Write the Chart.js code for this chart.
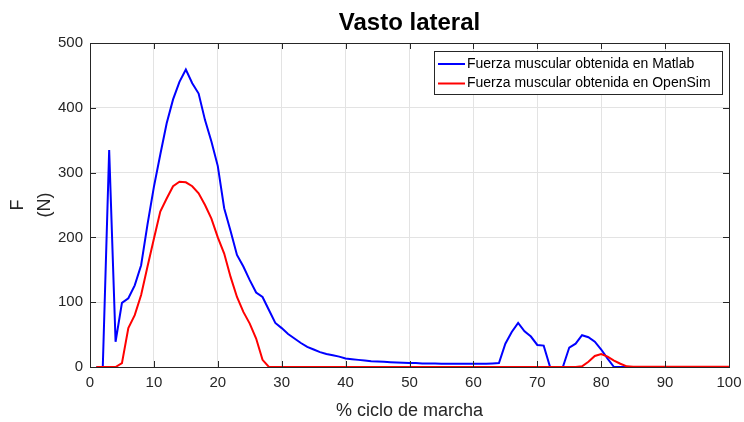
<!DOCTYPE html>
<html>
<head>
<meta charset="utf-8">
<script src="https://cdn.jsdelivr.net/npm/chart.js@4.4.1/dist/chart.umd.min.js"></script>
<style>
  body { margin: 0; background: #fff; }
  #wrap { width: 744px; height: 422px; }
</style>
</head>
<body>
<div id="wrap"><canvas id="myChart"></canvas></div>
<script>
// % ciclo de marcha
const ciclo = [1,2,3,4,5,6,7,8,9,10,11,12,13,14,15,16,17,18,19,20,
  21,22,23,24,25,26,27,28,29,30,31,32,33,34,35,36,37,38,39,40,
  41,42,43,44,45,46,47,48,49,50,51,52,53,54,55,56,57,58,59,60,
  61,62,63,64,65,66,67,68,69,70,71,72,73,74,75,76,77,78,79,80,
  81,82,83,84,85,86,87,88,89,90,91,92,93,94,95,96,97,98,99,100];

// fuerza (N) obtenida en Matlab
const fuerzaMatlab = [0,0,335,39,99,106,126,157,220,278,
  328,376,413,440,459,438,422,381,348,310,
  245,210,173,155,134,115,108,88,68,60,
  51,44,37,31,27,23,20,18,16,13,
  12,11,10,9,8.5,8,7.5,7,6.5,6,
  6,5.5,5.5,5.5,5,5,5,5,5,5,
  5,5,5.5,6,36,54,68,55,47,34,
  33,0,0,0,30,36,49,46,39,27,
  13,0,0,0,0,0,0,0,0,0,
  0,0,0,0,0,0,0,0,0,0];

// fuerza (N) obtenida en OpenSim
const fuerzaOpenSim = [0,0,0,0,6,60,80,111,155,198,
  240,260,279,286,285,279,268,250,229,200,
  175,139,108,85,67,44,11,0,0,0,
  0,0,0,0,0,0,0,0,0,0,
  0,0,0,0,0,0,0,0,0,0,
  0,0,0,0,0,0,0,0,0,0,
  0,0,0,0,0,0,0,0,0,0,
  0,0,0,0,0,0,1,8,17,20,
  16,10,5,1,0.5,0.5,0.5,0.5,0.5,0.5,
  0.5,0.5,0.5,0.5,0.5,0.5,0.5,0.5,0.5,0.5];

const xTicks = [0,10,20,30,40,50,60,70,80,90,100];
const yTicks = [0,100,200,300,400,500];

const FONT = "'Liberation Sans', Arial, sans-serif";
const AXIS = "#262626";

function toPoints(xs, ys){
    return xs.map((x, i) => ({x: x, y: ys[i]}));
}

// box, inward ticks, title and legend drawn like matlab does
const matlabFrame = {
    id: "matlabFrame",
    afterDatasetsDraw(chart){
        const ctx = chart.ctx;
        const a = chart.chartArea;
        const xs = chart.scales.x;
        const ys = chart.scales.y;
        const len = 6;

        ctx.save();
        ctx.strokeStyle = AXIS;
        ctx.lineWidth = 1;
        ctx.beginPath();
        xTicks.forEach(v => {
            const px = Math.round(xs.getPixelForValue(v)) + 0.5;
            ctx.moveTo(px, a.bottom); ctx.lineTo(px, a.bottom - len);
            ctx.moveTo(px, a.top); ctx.lineTo(px, a.top + len);
        });
        yTicks.forEach(v => {
            const py = Math.round(ys.getPixelForValue(v)) + 0.5;
            ctx.moveTo(a.left, py); ctx.lineTo(a.left + len, py);
            ctx.moveTo(a.right, py); ctx.lineTo(a.right - len, py);
        });
        ctx.stroke();
        ctx.strokeRect(Math.round(a.left) + 0.5, Math.round(a.top) + 0.5,
            Math.round(a.right - a.left), Math.round(a.bottom - a.top));

        // title
        ctx.fillStyle = "#000";
        ctx.font = "bold 24px " + FONT;
        ctx.textAlign = "center";
        ctx.textBaseline = "middle";
        ctx.fillText("Vasto lateral", (a.left + a.right) / 2, 23);

        // legend
        const lx = 434, ly = 51, lw = 288, lh = 43;
        ctx.fillStyle = "#fff";
        ctx.fillRect(lx, ly, lw, lh);
        ctx.strokeStyle = AXIS;
        ctx.strokeRect(lx + 0.5, ly + 0.5, lw, lh);
        ctx.font = "14px " + FONT;
        ctx.textAlign = "left";
        chart.data.datasets.forEach((ds, i) => {
            const y = 64 + i * 19.5;
            ctx.strokeStyle = ds.borderColor;
            ctx.lineWidth = 2;
            ctx.beginPath();
            ctx.moveTo(438, y); ctx.lineTo(465, y);
            ctx.stroke();
            ctx.fillStyle = "#000";
            ctx.fillText(ds.label, 467, y);
        });
        ctx.restore();
    }
};

const data = {
    datasets: [
        {
            label: "Fuerza muscular obtenida en Matlab",
            data: toPoints(ciclo, fuerzaMatlab),
            borderColor: "rgb(0,0,255)",
            borderWidth: 2,
            pointRadius: 0,
            tension: 0,
            order: 1
        },
        {
            label: "Fuerza muscular obtenida en OpenSim",
            data: toPoints(ciclo, fuerzaOpenSim),
            borderColor: "rgb(255,0,0)",
            borderWidth: 2,
            pointRadius: 0,
            tension: 0,
            order: 0
        }
    ]
};

const config = {
    type: "line",
    data: data,
    plugins: [matlabFrame],
    options: {
        responsive: true,
        maintainAspectRatio: false,
        animation: false,
        layout: { padding: { top: 43, right: 0, left: 0, bottom: 0 } },
        plugins: {
            legend: { display: false },
            title: { display: false },
            tooltip: { enabled: false }
        },
        scales: {
            x: {
                type: "linear",
                min: 0,
                max: 100,
                afterBuildTicks: scale => { scale.ticks = xTicks.map(v => ({value: v})); },
                afterFit: scale => {
                    scale.height = 55;
                    scale.paddingRight = 15;
                    scale.paddingLeft = 0;
                },
                ticks: { color: AXIS, font: { family: FONT, size: 15 }, padding: 7, maxRotation: 0 },
                grid: { color: "#e3e3e3", drawTicks: false },
                border: { color: AXIS },
                title: {
                    display: true,
                    text: "% ciclo de marcha",
                    color: AXIS,
                    font: { family: FONT, size: 18 },
                    padding: { top: 0, bottom: 0 }
                }
            },
            y: {
                min: 0,
                max: 500,
                afterBuildTicks: scale => { scale.ticks = yTicks.map(v => ({value: v})); },
                afterFit: scale => { scale.width = 90; },
                ticks: { color: AXIS, font: { family: FONT, size: 15 }, padding: 7 },
                grid: { color: "#e3e3e3", drawTicks: false },
                border: { color: AXIS },
                title: {
                    display: true,
                    text: ["F", "(N)"],
                    color: AXIS,
                    font: { family: FONT, size: 18, lineHeight: 1.5 },
                    padding: { top: 4.5, bottom: 0 }
                }
            }
        }
    }
};

const ctx = document.getElementById("myChart").getContext("2d");
let myChart = new Chart(ctx, config);
</script>
</body>
</html>
